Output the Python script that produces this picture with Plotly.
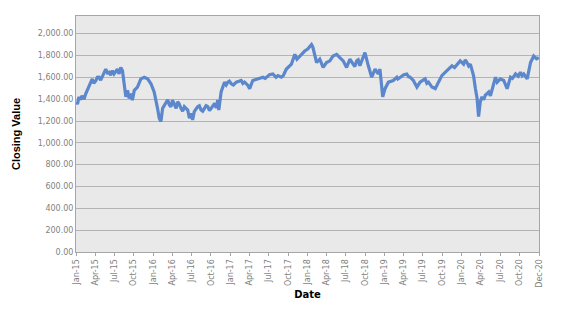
import plotly.graph_objects as go

dates = [
    "2015-01-02", "2015-01-15", "2015-02-08", "2015-03-04", "2015-03-19", "2015-04-05",
    "2015-04-20", "2015-05-14", "2015-05-22", "2015-06-07", "2015-06-22", "2015-06-30",
    "2015-07-16", "2015-07-24", "2015-08-01", "2015-08-09", "2015-08-17", "2015-08-25",
    "2015-09-02", "2015-09-10", "2015-09-18", "2015-09-25", "2015-10-04", "2015-10-19",
    "2015-11-04", "2015-11-20", "2015-12-06", "2015-12-22", "2016-01-06", "2016-01-15",
    "2016-01-22", "2016-01-30", "2016-02-07", "2016-02-15", "2016-03-02", "2016-03-18",
    "2016-04-02", "2016-04-19", "2016-04-26", "2016-05-12", "2016-05-28", "2016-06-13",
    "2016-06-21", "2016-06-29", "2016-07-06", "2016-07-14", "2016-07-30", "2016-08-15",
    "2016-08-31", "2016-09-16", "2016-10-02", "2016-10-18", "2016-11-02", "2016-11-07",
    "2016-11-18", "2016-12-04", "2016-12-20", "2017-01-05", "2017-01-29", "2017-02-21",
    "2017-03-09", "2017-03-25", "2017-04-02", "2017-04-17", "2017-05-11", "2017-06-04",
    "2017-06-28", "2017-07-21", "2017-08-14", "2017-08-30", "2017-09-23", "2017-10-17",
    "2017-11-02", "2017-11-12", "2017-11-25", "2017-12-19", "2018-01-02", "2018-01-20",
    "2018-01-26", "2018-02-05", "2018-02-13", "2018-02-28", "2018-03-16", "2018-04-01",
    "2018-04-17", "2018-05-02", "2018-05-19", "2018-06-03", "2018-06-19", "2018-07-05",
    "2018-07-21", "2018-08-05", "2018-08-22", "2018-09-06", "2018-09-22", "2018-09-30",
    "2018-10-16", "2018-11-01", "2018-11-17", "2018-12-02", "2018-12-10", "2018-12-23",
    "2019-01-03", "2019-01-19", "2019-02-11", "2019-02-28", "2019-03-23", "2019-04-16",
    "2019-05-02", "2019-05-17", "2019-06-03", "2019-06-18", "2019-07-12", "2019-07-28",
    "2019-08-13", "2019-08-29", "2019-09-13", "2019-09-29", "2019-10-23", "2019-11-16",
    "2019-12-10", "2019-12-25", "2020-01-10", "2020-01-26", "2020-02-11", "2020-02-26",
    "2020-03-06", "2020-03-14", "2020-03-21", "2020-03-29", "2020-04-06", "2020-04-22",
    "2020-05-08", "2020-05-24", "2020-06-09", "2020-06-17", "2020-07-02", "2020-07-18",
    "2020-08-03", "2020-08-19", "2020-09-12", "2020-10-05", "2020-10-21", "2020-11-06",
    "2020-11-22", "2020-12-07", "2020-12-20", "2020-12-31",
    # extra readings of the short-term wiggles
    "2015-01-08", "2015-01-22", "2015-01-29", "2015-02-15", "2015-02-22",
    "2015-03-11", "2015-03-26", "2015-04-12", "2015-04-28", "2015-05-06",
    "2015-05-30", "2015-06-14", "2015-07-08",
    "2016-03-10", "2016-03-25", "2016-04-10", "2016-05-04", "2016-05-20",
    "2016-08-07", "2016-08-23", "2016-09-08", "2016-09-24", "2016-10-10", "2016-10-26",
    "2016-12-12", "2016-12-27", "2017-01-15", "2017-02-05", "2017-03-01",
    "2017-06-15", "2017-07-05", "2017-08-05", "2017-09-08",
    "2018-08-13", "2018-08-29",
    "2019-03-05", "2019-04-02", "2019-04-25", "2019-07-02", "2019-07-20",
    "2019-11-01", "2019-11-28", "2020-01-18", "2020-02-03",
    "2020-04-14", "2020-04-30", "2020-05-16",
    "2020-08-28", "2020-09-25", "2020-10-13",
]

closing = [
    1376, 1421, 1400, 1525, 1586, 1570,
    1601, 1631, 1676, 1646, 1661, 1631,
    1676, 1631, 1691, 1661, 1511, 1421,
    1481, 1406, 1451, 1391, 1481, 1511,
    1586, 1601, 1586, 1541, 1466, 1391,
    1316, 1225, 1196, 1316, 1376, 1346,
    1391, 1316, 1376, 1316, 1331, 1301,
    1225, 1271, 1210, 1286, 1331, 1301,
    1316, 1331, 1316, 1361, 1391, 1301,
    1466, 1556, 1556, 1541, 1556, 1571,
    1556, 1526, 1496, 1571, 1586, 1601,
    1616, 1631, 1616, 1601, 1676, 1721,
    1811, 1766, 1796, 1841, 1860, 1901,
    1880, 1796, 1736, 1766, 1691, 1736,
    1751, 1796, 1811, 1781, 1751, 1691,
    1766, 1721, 1751, 1706, 1781, 1826,
    1706, 1601, 1676, 1631, 1676, 1421,
    1496, 1556, 1571, 1601, 1616, 1631,
    1601, 1571, 1511, 1556, 1586, 1556,
    1511, 1496, 1556, 1616, 1661, 1706,
    1721, 1751, 1721, 1736, 1721, 1616,
    1496, 1406, 1241, 1376, 1421, 1436,
    1466, 1496, 1601, 1556, 1586, 1571,
    1496, 1601, 1631, 1646, 1631, 1586,
    1736, 1796, 1770, 1781,
    # extra readings
    1355, 1395, 1430, 1445, 1480,
    1560, 1545, 1600, 1575, 1610,
    1640, 1620, 1660,
    1395, 1330, 1345, 1355, 1290,
    1340, 1290, 1340, 1295, 1345, 1320,
    1530, 1565, 1530, 1560, 1545,
    1590, 1625, 1600, 1615,
    1700, 1760,
    1585, 1625, 1605, 1575, 1545,
    1680, 1690, 1760, 1705,
    1395, 1450, 1430,
    1590, 1610, 1615,
]

tick_dates = [
    "2015-01-01", "2015-04-01", "2015-07-01", "2015-10-01",
    "2016-01-01", "2016-04-01", "2016-07-01", "2016-10-01",
    "2017-01-01", "2017-04-01", "2017-07-01", "2017-10-01",
    "2018-01-01", "2018-04-01", "2018-07-01", "2018-10-01",
    "2019-01-01", "2019-04-01", "2019-07-01", "2019-10-01",
    "2020-01-01", "2020-04-01", "2020-07-01", "2020-10-01",
    "2021-01-01",
]
tick_labels = [
    "Jan-15", "Apr-15", "Jul-15", "Oct-15",
    "Jan-16", "Apr-16", "Jul-16", "Oct-16",
    "Jan-17", "Apr-17", "Jul-17", "Oct-17",
    "Jan-18", "Apr-18", "Jul-18", "Oct-18",
    "Jan-19", "Apr-19", "Jul-19", "Oct-19",
    "Jan-20", "Apr-20", "Jul-20", "Oct-20",
    "Dec-20",
]
y_ticks = [0, 200, 400, 600, 800, 1000, 1200, 1400, 1600, 1800, 2000]

pairs = sorted(zip(dates, closing))
xs = [p[0] for p in pairs]
ys = [p[1] for p in pairs]

fig = go.Figure()
fig.add_trace(go.Scatter(
    x=xs, y=ys, mode="lines",
    line=dict(color="#5B87CC", width=3.2),
    showlegend=False,
))

fig.update_layout(
    width=569, height=311,
    margin=dict(l=76, r=30, t=16, b=55),
    paper_bgcolor="white",
    plot_bgcolor="#E9E9E9",
    font=dict(family="DejaVu Sans", size=8, color="#7F7F7F"),
)
fig.update_xaxes(
    type="date",
    range=["2015-01-01", "2021-01-01"],
    tickmode="array", tickvals=tick_dates, ticktext=tick_labels,
    tickangle=-90,
    showgrid=False,
    showline=True, linecolor="#A6A6A6", linewidth=1, mirror=True,
    ticks="outside", ticklen=3, tickcolor="#A6A6A6",
    tickfont=dict(family="DejaVu Sans", size=8, color="#7F7F7F"),
    title=dict(text="<b>Date</b>", font=dict(family="DejaVu Sans", size=10, color="black"), standoff=4),
)
fig.update_yaxes(
    range=[0, 2162],
    tickmode="array", tickvals=y_ticks,
    tickformat=",.2f",
    showgrid=True, gridcolor="#B4B4B4", gridwidth=1,
    zeroline=False,
    showline=True, linecolor="#A6A6A6", linewidth=1, mirror=True,
    ticks="",
    tickfont=dict(family="DejaVu Sans", size=8, color="#7F7F7F"),
    title=dict(text="<b>Closing Value</b>", font=dict(family="Liberation Sans", size=11, color="black"), standoff=14),
)

fig.write_html("out.html")
